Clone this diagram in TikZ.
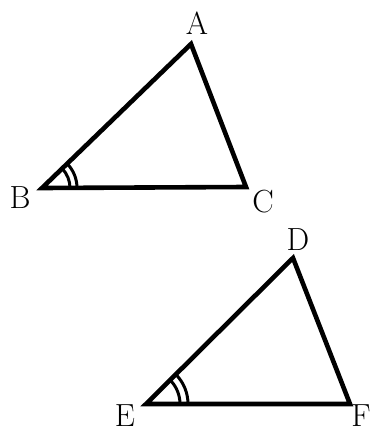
\documentclass[tikz,border=0pt]{standalone}
\begin{document}
\begin{tikzpicture}[x=1pt,y=-1pt,
  edge/.style={line width=4.6pt,line join=miter},
  anglemark/.style={line width=3pt},
  lab/.style={font=\fontsize{32}{32}\selectfont,inner sep=0pt}]
\useasboundingbox (0,0) rectangle (374,434);
\coordinate (A) at (191,44);
\coordinate (B) at (42,188);
\coordinate (C) at (246,187);
\coordinate (D) at (293,258);
\coordinate (E) at (146,404);
\coordinate (F) at (350,404);
\draw[edge] (A) -- (B) -- (C) -- cycle;
\draw[edge] (D) -- (E) -- (F) -- cycle;
\draw[anglemark] (B) ++(28,0) arc[start angle=0,end angle=-44,radius=28];
\draw[anglemark] (B) ++(35,0) arc[start angle=0,end angle=-44,radius=35];
\draw[anglemark] (E) ++(34,0) arc[start angle=0,end angle=-45,radius=34];
\draw[anglemark] (E) ++(42,0) arc[start angle=0,end angle=-45,radius=42];
\node[lab] (la) at (197,23) {A};
\node[lab] (lb) at (20,198) {B};
\node[lab] (lc) at (263,202) {C};
\node[lab] (ld) at (298,240) {D};
\node[lab] (le) at (125,416) {E};
\node[lab] (lf) at (361,416) {F};
\end{tikzpicture}
\end{document}
